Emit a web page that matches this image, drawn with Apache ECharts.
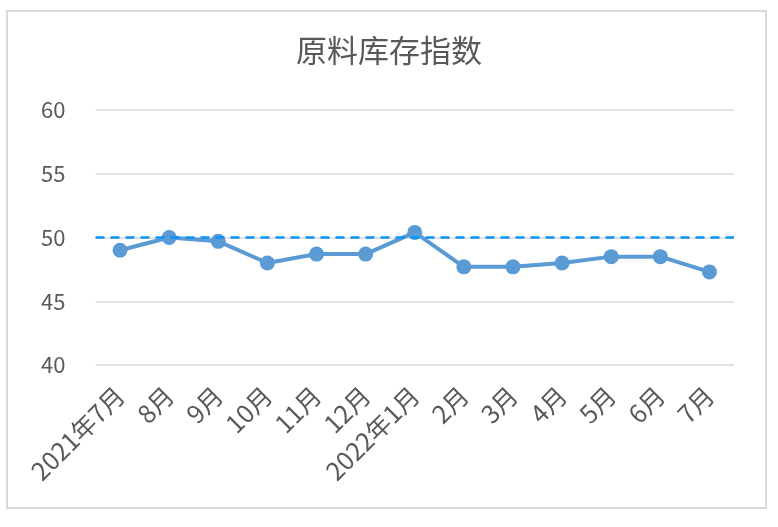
<!DOCTYPE html>
<html>
<head>
<meta charset="utf-8">
<script src="https://cdn.jsdelivr.net/npm/echarts@6/dist/echarts.min.js"></script>
<style>
html,body{margin:0;padding:0;background:#fff;}
#c{width:778px;height:527px;}
</style>
</head>
<body>
<div id="c"></div>
<script>
const categories = ['2021年7月','8月','9月','10月','11月','12月','2022年1月','2月','3月','4月','5月','6月','7月'];
const values = [49.0, 50.0, 49.7, 48.0, 48.7, 48.7, 50.4, 47.7, 47.7, 48.0, 48.5, 48.5, 47.3];
const referenceValue = 50;
const yTicks = {min: 40, max: 60, interval: 5};
const titleText = '原料库存指数';

const chart = echarts.init(document.getElementById('c'), null, {renderer: 'canvas'});
const fontFam = '"Noto Sans CJK SC", "Noto Sans", sans-serif';
chart.setOption({
  animation: false,
  backgroundColor: '#ffffff',
  title: {
    text: titleText,
    left: 'center',
    top: 30,
    textStyle: {fontSize: 31, fontWeight: 'normal', color: '#595959', fontFamily: fontFam}
  },
  graphic: [{
    type: 'rect',
    shape: {x: 7, y: 11, width: 759, height: 497},
    style: {fill: 'none', stroke: '#d9d9d9', lineWidth: 2},
    silent: true
  }],
  grid: {left: 95.5, right: 44, top: 110, bottom: 162},
  xAxis: {
    type: 'category',
    data: categories,
    boundaryGap: true,
    axisLine: {show: false},
    axisTick: {show: false},
    axisLabel: {
      rotate: 45,
      interval: 0,
      margin: 26,
      fontSize: 25,
      color: '#595959',
      fontFamily: fontFam
    }
  },
  yAxis: {
    type: 'value',
    min: yTicks.min,
    max: yTicks.max,
    interval: yTicks.interval,
    axisLine: {show: false},
    axisTick: {show: false},
    axisLabel: {fontSize: 22, color: '#595959', margin: 30, fontFamily: fontFam},
    splitLine: {lineStyle: {color: '#d9d9d9', width: 1.5}}
  },
  series: [{
    type: 'line',
    data: values,
    symbol: 'circle',
    symbolSize: 15,
    lineStyle: {color: '#5b9bd5', width: 4},
    itemStyle: {color: '#5b9bd5'},
    markLine: {
      silent: true,
      symbol: ['none', 'none'],
      label: {show: false},
      lineStyle: {color: '#0d95f5', type: [9, 6], width: 2.5},
      data: [{yAxis: referenceValue}]
    }
  }]
});
</script>
</body>
</html>
